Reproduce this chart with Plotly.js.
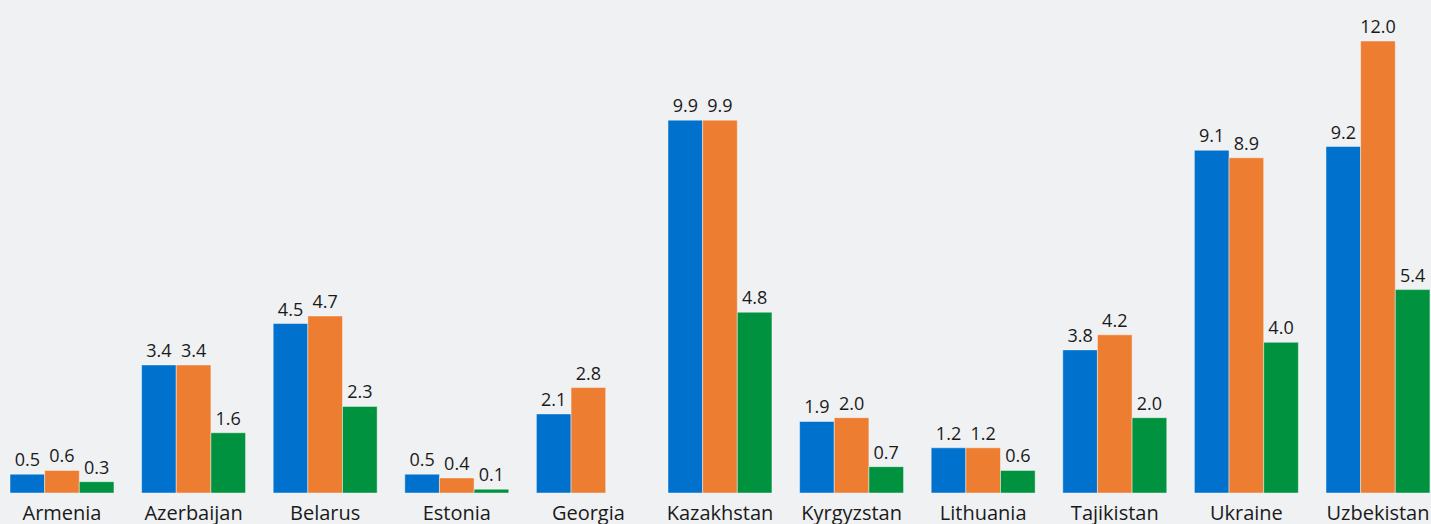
<!DOCTYPE html>
<html>
<head>
<meta charset="utf-8">
<script src="https://cdn.plot.ly/plotly-3.0.1.min.js"></script>
<style>
html,body{margin:0;padding:0;background:#f0f1f3;}
#chart{width:1431px;height:524px;}
</style>
</head>
<body>
<div id="chart"></div>
<script>
const countries = ["Armenia","Azerbaijan","Belarus","Estonia","Georgia","Kazakhstan","Kyrgyzstan","Lithuania","Tajikistan","Ukraine","Uzbekistan"];
const series1 = [0.5, 3.4, 4.5, 0.5, 2.1, 9.9, 1.9, 1.2, 3.8, 9.1, 9.2];
const series2 = [0.6, 3.4, 4.7, 0.4, 2.8, 9.9, 2.0, 1.2, 4.2, 8.9, 12.0];
const series3 = [0.3, 1.6, 2.3, 0.1, null, 4.8, 0.7, 0.6, 2.0, 4.0, 5.4];
const seriesColors = ["#0072ce", "#ed7d31", "#00923f"];

const allSeries = [series1, series2, series3];
const traces = allSeries.map((vals, i) => ({
  type: "bar",
  x: countries,
  y: vals,
  marker: {color: seriesColors[i], line: {color: "rgba(255,255,255,0.55)", width: 0.8}},
  text: vals.map(v => v === null ? "" : v.toFixed(1)),
  textposition: "outside",
  constraintext: "none",
  cliponaxis: false,
  textfont: {family: "Open Sans, sans-serif", size: 18, color: "#1a1a1a"},
  hoverinfo: "none",
  showlegend: false
}));

const layout = {
  width: 1431,
  height: 524,
  margin: {l: 0, r: 0, t: 0, b: 31, pad: 0},
  paper_bgcolor: "#f0f1f3",
  plot_bgcolor: "#f0f1f3",
  barmode: "group",
  bargap: 0.21,
  bargroupgap: 0,
  showlegend: false,
  xaxis: {
    type: "category",
    range: [-0.471, 10.403],
    showgrid: false,
    zeroline: false,
    showline: false,
    ticks: "",
    ticklabelstandoff: 6,
    tickfont: {family: "Open Sans, sans-serif", size: 20, color: "#1a1a1a"},
    fixedrange: true
  },
  yaxis: {
    range: [0, 13.09],
    showgrid: false,
    zeroline: false,
    showline: false,
    showticklabels: false,
    ticks: "",
    fixedrange: true
  },
  font: {family: "Open Sans, sans-serif"}
};

Plotly.newPlot("chart", traces, layout, {displayModeBar: false, staticPlot: true});
</script>
</body>
</html>
